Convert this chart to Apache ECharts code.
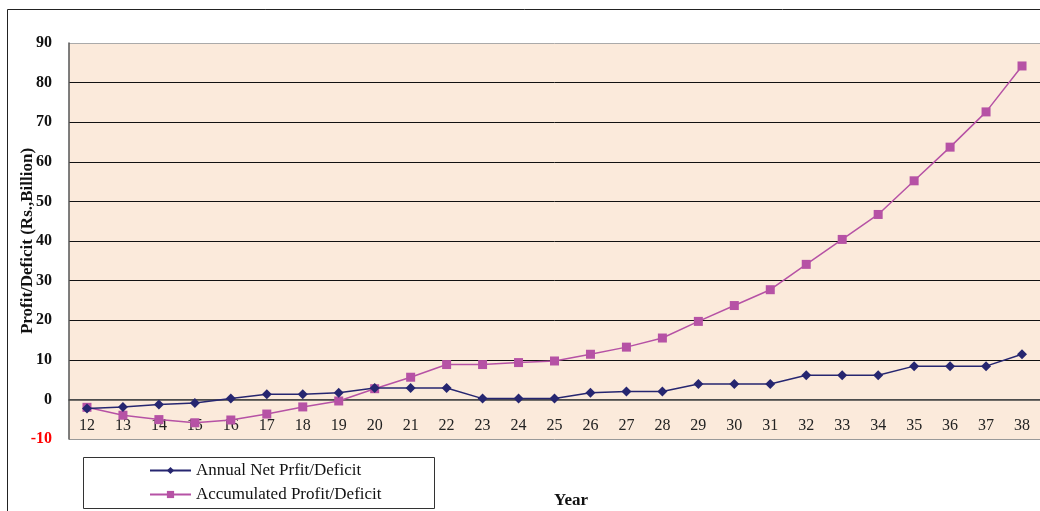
<!DOCTYPE html>
<html>
<head>
<meta charset="utf-8">
<script src="https://cdn.jsdelivr.net/npm/echarts@6/dist/echarts.min.js"></script>
<style>
  html, body { margin: 0; padding: 0; background: #fff; }
  #chart { width: 1040px; height: 511px; }
</style>
</head>
<body>
<div id="chart"></div>
<script>
// years on the x axis
const years = ['12', '13', '14', '15', '16', '17', '18', '19', '20', '21', '22', '23', '24', '25',
  '26', '27', '28', '29', '30', '31', '32', '33', '34', '35', '36', '37', '38']
// annual net profit / deficit (Rs. billion)
const annualNet = [-2.3, -1.9, -1.3, -0.9, 0.2, 1.3, 1.3, 1.7, 2.9, 2.9, 2.9, 0.2, 0.2, 0.2,
  1.7, 2.0, 2.0, 3.9, 3.9, 3.9, 6.1, 6.1, 6.1, 8.4, 8.4, 8.4, 11.4]
// accumulated profit / deficit (Rs. billion)
const accumulated = [-2.0, -4.0, -5.1, -5.9, -5.2, -3.7, -1.9, -0.4, 2.7, 5.6, 8.8, 8.8, 9.3, 9.7,
  11.4, 13.2, 15.5, 19.7, 23.7, 27.7, 34.1, 40.4, 46.7, 55.2, 63.7, 72.6, 84.2]

const serif = '"Liberation Serif", "Times New Roman", serif'

let chart = echarts.init(document.getElementById('chart'))
let option = {
  backgroundColor: '#fff',
  animation: false,
  grid: {
    left: 69,
    top: 43,
    width: 981,
    height: 396,
    show: true,
    backgroundColor: '#FBEADB',
    borderWidth: 0
  },
  xAxis: {
    type: 'category',
    data: years,
    // axis line sits on the zero line (one interval above the bottom)
    offset: -39.6,
    axisLine: { onZero: false, lineStyle: { color: '#444', width: 1.5 } },
    axisTick: { inside: true, length: 5, lineStyle: { color: '#222' } },
    axisLabel: { margin: 18, fontFamily: serif, fontSize: 16, color: '#222' },
    splitLine: { show: false }
  },
  yAxis: {
    type: 'value',
    min: -10,
    max: 90,
    interval: 10,
    name: 'Profit/Deficit (Rs.,Billion)',
    nameLocation: 'middle',
    nameGap: 33,
    nameMoveOverlap: false,
    nameTextStyle: { fontFamily: serif, fontSize: 17, fontWeight: 'bold', color: '#111' },
    axisLine: { show: true, lineStyle: { color: '#555', width: 1.5 } },
    axisTick: { show: false },
    axisLabel: {
      margin: 17,
      fontFamily: serif,
      fontSize: 16,
      fontWeight: 'bold',
      color: function (value) {
        return value < 0 ? '#FF0000' : '#111'
      }
    },
    splitLine: {
      lineStyle: {
        color: ['#999', '#666', '#111', '#111', '#111', '#111', '#111', '#111', '#111', '#111', '#aaa'],
        width: 1
      }
    }
  },
  legend: {
    orient: 'vertical',
    left: 144,
    top: 457,
    itemWidth: 41,
    itemHeight: 9,
    itemGap: 7,
    textStyle: { fontFamily: serif, fontSize: 17, color: '#111' },
    data: ['Annual Net Prfit/Deficit', 'Accumulated Profit/Deficit']
  },
  graphic: [
    {
      type: 'rect',
      shape: { x: 7.5, y: 9.5, width: 1100, height: 600 },
      style: { fill: 'none', stroke: '#222', lineWidth: 1 },
      z: -1
    },
    {
      type: 'rect',
      shape: { x: 83.5, y: 457.5, width: 351, height: 51 },
      style: { fill: '#fff', stroke: '#333', lineWidth: 1 },
      z: -1
    },
    {
      type: 'text',
      left: 554,
      top: 492,
      style: { text: 'Year', font: 'bold 17px ' + serif, fill: '#111' }
    }
  ],
  series: [
    {
      name: 'Annual Net Prfit/Deficit',
      type: 'line',
      data: annualNet,
      symbol: 'diamond',
      symbolSize: 10,
      lineStyle: { color: '#262670', width: 1.5 },
      itemStyle: { color: '#262670' },
      z: 3
    },
    {
      name: 'Accumulated Profit/Deficit',
      type: 'line',
      data: accumulated,
      symbol: 'rect',
      symbolSize: 9,
      lineStyle: { color: '#B652A5', width: 1.5 },
      itemStyle: { color: '#B652A5' },
      z: 2
    }
  ]
}
chart.setOption(option)
</script>
</body>
</html>
